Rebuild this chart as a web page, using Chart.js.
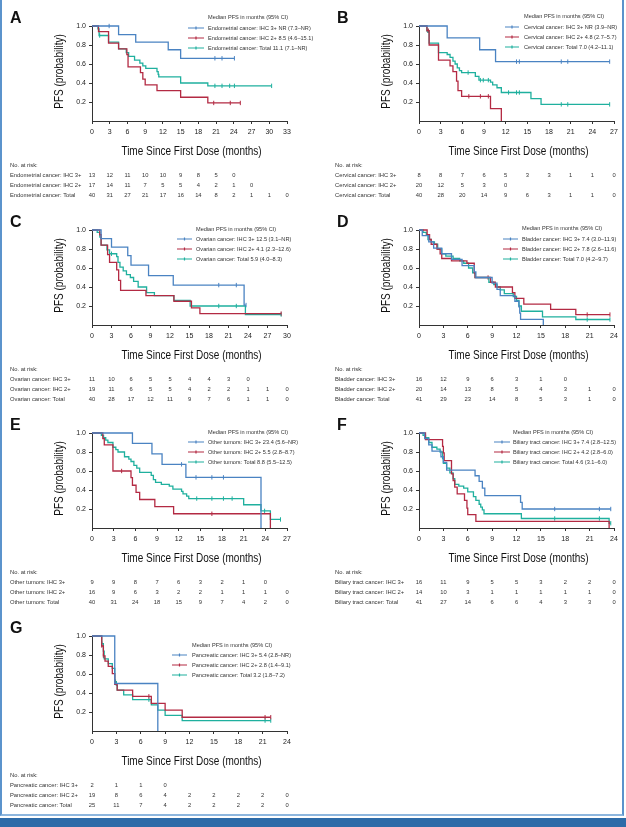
<!DOCTYPE html>
<html>
<head>
<meta charset="utf-8">
<script src="https://cdn.jsdelivr.net/npm/chart.js@4.4.1/dist/chart.umd.min.js"></script>
<style>
  html, body { margin: 0; padding: 0; background: #fff; overflow: hidden; }
  body { width: 626px; height: 827px; position: relative; }
  .frame { position: absolute; left: 0; top: 0; width: 620px; height: 814px;
           border-left: 2px solid #5b93cc; border-right: 2px solid #5b93cc; border-bottom: 2px solid #8db6de; }
  .bar { position: absolute; left: 0; top: 818px; width: 626px; height: 9px; background: #2d6ba8; }
  canvas { position: absolute; }
</style>
</head>
<body>
<div class="frame"></div>
<div class="bar"></div>
<canvas id="pA" width="326" height="204" style="left:0;top:0"></canvas>
<canvas id="pB" width="299" height="204" style="left:327px;top:0"></canvas>
<canvas id="pC" width="326" height="204" style="left:0;top:204px"></canvas>
<canvas id="pD" width="299" height="204" style="left:327px;top:204px"></canvas>
<canvas id="pE" width="326" height="204" style="left:0;top:407px"></canvas>
<canvas id="pF" width="299" height="204" style="left:327px;top:407px"></canvas>
<canvas id="pG" width="326" height="204" style="left:0;top:610px"></canvas>
<script>
// ---- A: endometrial ----
const endoMax = 33;
const endoIHC3 = [[0,1],[4.5,0.91],[7.4,0.83],[12.9,0.75],[15.0,0.66],[24.1,0.66]];
const endoIHC3Cens = [[2.9,1],[20.8,0.66],[22.0,0.66],[24.1,0.66]];
const endoIHC2 = [[0,1],[1.1,0.94],[2.8,0.82],[4.5,0.76],[5.9,0.70],[6.1,0.57],[8.2,0.51],[8.6,0.44],[9.0,0.38],[11.0,0.32],[15.0,0.25],[19.6,0.19],[25.1,0.19]];
const endoIHC2Cens = [[20.6,0.19],[23.4,0.19],[25.1,0.19]];
const endoTotal = [[0,1],[1.0,0.97],[1.2,0.90],[2.8,0.83],[4.5,0.76],[5.8,0.72],[6.2,0.68],[7.2,0.64],[8.1,0.61],[8.6,0.58],[9.1,0.555],[11.0,0.52],[11.2,0.49],[11.3,0.465],[15.0,0.40],[19.6,0.37],[30.4,0.37]];
const endoTotalCens = [[1.3,0.9],[20.8,0.37],[22.0,0.37],[23.3,0.37],[24.1,0.37],[30.4,0.37]];
const endoRisk3 = [13,12,11,10,10,9,8,5,0];
const endoRisk2 = [17,14,11,7,5,5,4,2,1,0];
const endoRiskT = [40,31,27,21,17,16,14,8,2,1,1,0];
const endoMedians = ['NR (7.3–NR)', '8.5 (4.6–15.1)', '11.1 (7.1–NR)'];

// ---- B: cervical ----
const cervMax = 27;
const cervIHC3 = [[0,1],[3.9,0.875],[8.4,0.75],[10.6,0.625],[26.4,0.625]];
const cervIHC3Cens = [[13.5,0.625],[13.9,0.625],[19.7,0.625],[20.6,0.625],[26.4,0.625]];
const cervIHC2 = [[0,1],[1.1,0.95],[1.4,0.80],[2.7,0.64],[4.3,0.58],[4.7,0.52],[5.2,0.42],[5.4,0.32],[5.9,0.26],[9.9,0.13],[11.4,0]];
const cervIHC2Cens = [[1.3,0.95],[6.9,0.26],[8.5,0.26],[9.6,0.26]];
const cervTotal = [[0,1],[1.1,0.95],[1.4,0.82],[2.7,0.72],[3.9,0.70],[4.3,0.67],[4.7,0.63],[5.0,0.60],[5.3,0.56],[5.6,0.53],[5.9,0.51],[7.8,0.47],[8.3,0.43],[9.9,0.41],[10.2,0.38],[10.8,0.35],[11.4,0.30],[15.5,0.235],[16.9,0.175],[26.4,0.175]];
const cervTotalCens = [[1.2,0.95],[6.8,0.51],[8.5,0.43],[8.9,0.43],[9.6,0.43],[12.4,0.30],[13.5,0.30],[13.9,0.30],[19.7,0.175],[20.6,0.175],[26.4,0.175]];
const cervRisk3 = [8,8,7,6,5,3,3,1,1,0];
const cervRisk2 = [20,12,5,3,0];
const cervRiskT = [40,28,20,14,9,6,3,1,1,0];
const cervMedians = ['NR (3.9–NR)', '4.8 (2.7–5.7)', '7.0 (4.2–11.1)'];

// ---- C: ovarian ----
const ovMax = 30;
const ovIHC3 = [[0,1],[1.4,0.91],[3.0,0.82],[5.5,0.73],[6.0,0.63],[8.7,0.52],[12.5,0.42],[23.4,0.21],[23.7,0.21]];
const ovIHC3Cens = [[19.5,0.42],[22.2,0.42],[23.7,0.21]];
const ovIHC2 = [[0,1],[1.2,0.95],[1.4,0.84],[2.4,0.74],[2.7,0.66],[3.8,0.58],[4.1,0.47],[4.4,0.365],[8.3,0.31],[12.6,0.25],[15.3,0.18],[16.6,0.12],[29.1,0.12]];
const ovIHC2Cens = [[29.1,0.12]];
const ovTotal = [[0,1],[0.8,0.975],[1.2,0.925],[1.4,0.84],[2.3,0.79],[2.7,0.75],[3.8,0.72],[4.0,0.66],[4.3,0.61],[4.8,0.57],[5.3,0.53],[5.9,0.50],[6.4,0.46],[7.1,0.40],[8.4,0.34],[9.6,0.31],[12.6,0.26],[15.1,0.20],[23.6,0.11],[29.1,0.11]];
const ovTotalCens = [[3.0,0.75],[19.5,0.20],[22.2,0.20],[29.1,0.11]];
const ovRisk3 = [11,10,6,5,5,4,4,3,0];
const ovRisk2 = [19,11,6,5,5,4,2,2,1,1,0];
const ovRiskT = [40,28,17,12,11,9,7,6,1,1,0];
const ovMedians = ['12.5 (3.1–NR)', '4.1 (2.3–12.6)', '5.9 (4.0–8.3)'];

// ---- D: bladder ----
const blaMax = 24;
const blaIHC3 = [[0,1],[0.4,0.94],[1.2,0.875],[1.8,0.81],[2.8,0.75],[4.0,0.69],[5.3,0.625],[6.8,0.56],[7.0,0.50],[9.0,0.44],[9.6,0.375],[10.0,0.31],[11.8,0.25],[12.3,0.19],[12.4,0.125],[12.5,0.06],[15.3,0]];
const blaIHC3Cens = [];
const blaIHC2 = [[0,1],[1.0,0.95],[1.3,0.90],[1.5,0.85],[2.2,0.80],[2.6,0.75],[2.8,0.70],[4.0,0.675],[5.9,0.65],[6.8,0.55],[6.9,0.50],[8.8,0.45],[9.4,0.40],[11.5,0.34],[11.8,0.28],[12.9,0.22],[16.2,0.165],[19.3,0.11],[23.5,0.11]];
const blaIHC2Cens = [[8.5,0.50],[20.7,0.11],[23.5,0.11]];
const blaTotal = [[0,1],[0.5,0.975],[0.9,0.95],[1.1,0.90],[1.5,0.875],[1.9,0.85],[2.3,0.80],[2.8,0.75],[3.3,0.725],[4.2,0.70],[5.0,0.675],[5.5,0.65],[6.1,0.60],[6.6,0.55],[6.9,0.50],[8.6,0.45],[9.2,0.425],[9.6,0.40],[10.0,0.37],[10.5,0.33],[11.6,0.30],[12.0,0.26],[12.3,0.20],[12.6,0.145],[15.2,0.085],[19.3,0.058],[23.5,0.058]];
const blaTotalCens = [[20.7,0.058],[23.5,0.058]];
const blaRisk3 = [16,12,9,6,3,1,0];
const blaRisk2 = [20,14,13,8,5,4,3,1,0];
const blaRiskT = [41,29,23,14,8,5,3,1,0];
const blaMedians = ['7.4 (3.0–11.9)', '7.8 (2.6–11.6)', '7.0 (4.2–9.7)'];

// ---- E: other tumors ----
const othMax = 27;
const othIHC3 = [[0,1],[5.6,0.89],[8.3,0.78],[9.7,0.67],[13.0,0.533],[23.4,0]];
const othIHC3Cens = [[12.4,0.67],[14.4,0.533],[16.6,0.533],[18.2,0.533]];
const othIHC2 = [[0,1],[1.5,0.94],[1.7,0.875],[2.9,0.60],[5.4,0.53],[5.6,0.45],[6.1,0.375],[6.6,0.30],[8.7,0.225],[11.3,0.15],[24.7,0]];
const othIHC2Cens = [[4.1,0.60],[16.6,0.15]];
const othTotal = [[0,1],[1.3,0.975],[1.6,0.95],[1.9,0.925],[2.2,0.90],[2.9,0.85],[3.3,0.825],[3.6,0.80],[4.5,0.75],[5.1,0.725],[5.4,0.70],[5.8,0.66],[6.2,0.63],[6.6,0.585],[8.2,0.555],[8.5,0.51],[8.8,0.48],[9.6,0.46],[10.7,0.44],[11.2,0.41],[12.4,0.385],[12.6,0.36],[13.1,0.335],[13.4,0.31],[21.0,0.245],[23.4,0.18],[24.7,0.09],[26.1,0.09]];
const othTotalCens = [[14.5,0.31],[16.6,0.31],[18.2,0.31],[19.4,0.31],[23.9,0.18],[26.1,0.09]];
const othRisk3 = [9,9,8,7,6,3,2,1,0];
const othRisk2 = [16,9,6,3,2,2,1,1,1,0];
const othRiskT = [40,31,24,18,15,9,7,4,2,0];
const othMedians = ['23.4 (5.6–NR)', '5.5 (2.8–8.7)', '8.8 (5.5–12.5)'];

// ---- F: biliary tract ----
const bilMax = 24;
const bilIHC3 = [[0,1],[0.7,0.94],[1.2,0.875],[1.6,0.81],[2.7,0.75],[3.0,0.69],[3.4,0.61],[6.9,0.55],[7.4,0.49],[7.8,0.42],[8.1,0.34],[12.5,0.27],[12.7,0.20],[23.6,0.20]];
const bilIHC3Cens = [[16.7,0.20],[22.2,0.20],[23.6,0.20]];
const bilIHC2 = [[0,1],[0.8,0.93],[2.9,0.86],[3.0,0.79],[3.1,0.71],[4.0,0.57],[4.2,0.50],[4.4,0.43],[4.7,0.36],[5.6,0.29],[5.9,0.21],[6.0,0.14],[7.0,0.07],[23.4,0]];
const bilIHC2Cens = [];
const bilTotal = [[0,1],[0.5,0.975],[0.8,0.95],[1.2,0.90],[1.6,0.85],[2.2,0.83],[2.6,0.80],[2.9,0.73],[3.0,0.68],[3.4,0.63],[3.8,0.58],[4.2,0.52],[4.4,0.46],[4.9,0.44],[5.5,0.42],[6.0,0.38],[6.7,0.33],[7.0,0.29],[7.4,0.25],[7.6,0.22],[7.8,0.19],[8.0,0.15],[12.6,0.10],[23.4,0.05],[23.6,0.05]];
const bilTotalCens = [[16.7,0.10],[22.2,0.10],[23.6,0.05]];
const bilRisk3 = [16,11,9,5,5,3,2,2,0];
const bilRisk2 = [14,10,3,1,1,1,1,1,0];
const bilRiskT = [41,27,14,6,6,4,3,3,0];
const bilMedians = ['7.4 (2.8–12.5)', '4.2 (2.8–6.0)', '4.6 (3.1–6.0)'];

// ---- G: pancreatic ----
const panMax = 24;
const panIHC3 = [[0,1],[2.8,0.5],[8.1,0]];
const panIHC3Cens = [];
const panIHC2 = [[0,1],[1.2,0.895],[1.4,0.79],[1.6,0.735],[2.0,0.68],[2.5,0.605],[2.8,0.49],[3.1,0.43],[5.0,0.365],[7.3,0.29],[9.0,0.22],[11.1,0.145],[22.0,0.145]];
const panIHC2Cens = [[1.2,0.9],[1.4,0.79],[7.0,0.365],[21.3,0.145],[22.0,0.145]];
const panTotal = [[0,1],[1.2,0.92],[1.4,0.84],[1.5,0.76],[2.0,0.71],[2.5,0.66],[2.8,0.52],[3.0,0.48],[3.1,0.43],[3.9,0.38],[5.0,0.33],[7.3,0.275],[8.1,0.22],[9.0,0.165],[11.1,0.11],[22.0,0.11]];
const panTotalCens = [[1.2,0.92],[2.9,0.52],[7.0,0.33],[21.3,0.11],[22.0,0.11]];
const panRisk3 = [2,1,1,0];
const panRisk2 = [19,8,6,4,2,2,2,2,0];
const panRiskT = [25,11,7,4,2,2,2,2,0];
const panMedians = ['5.4 (2.8–NR)', '2.8 (1.4–9.1)', '3.2 (1.8–7.2)'];

const BLUE = '#4a83c2', RED = '#b32a43', TEAL = '#1fb09e';
const FONT = '"Liberation Sans", Arial, sans-serif';

function toXY(pts) { return pts.map(p => ({ x: p[0], y: p[1] })); }

// stepped:true -> flat to the next event, then drop (Kaplan-Meier shape)
function curve(pts, color) {
  return { data: toXY(pts), borderColor: color, borderWidth: 1.3, stepped: true,
           pointRadius: 0, fill: false, clip: false };
}
function cens(pts, color) {
  return { data: toXY(pts), showLine: false, pointStyle: 'line', pointRotation: 90,
           pointRadius: 2.2, pointBorderColor: color, pointBorderWidth: 1, borderColor: color, clip: false };
}

// condensed text: the figure uses a narrow face, so squeeze a regular one
function narrowText(ctx, text, x, y, rot) {
  ctx.save();
  ctx.translate(x, y);
  if (rot) ctx.rotate(rot);
  ctx.scale(0.8, 1);
  ctx.fillText(text, 0, 0);
  ctx.restore();
}

// letter, axis titles, legend and risk table
const kmExtras = {
  id: 'kmExtras',
  afterDraw(chart, args, o) {
    const ctx = chart.ctx;
    const xs = chart.scales.x, ys = chart.scales.y;
    const colors = [BLUE, RED, TEAL];
    const groups = ['IHC 3+', 'IHC 2+', 'Total'];
    ctx.save();
    ctx.fillStyle = '#111';
    ctx.font = 'bold 16px ' + FONT;
    ctx.textAlign = 'left';
    ctx.textBaseline = 'alphabetic';
    ctx.fillText(o.letter, 10, 23);

    ctx.font = '12.5px ' + FONT;
    ctx.textAlign = 'center';
    ctx.textBaseline = 'middle';
    narrowText(ctx, 'Time Since First Dose (months)', (xs.left + xs.right) / 2 + 2, 152);
    narrowText(ctx, 'PFS (probability)', 60, (ys.top + ys.bottom) / 2 - 2, -Math.PI / 2);

    ctx.textAlign = 'left';
    ctx.font = '5.6px ' + FONT;
    ctx.fillStyle = '#333';
    ctx.fillText('Median PFS in months (95% CI)', o.leg[2], o.legTitleY);
    o.legY.forEach((y, i) => {
      ctx.strokeStyle = colors[i];
      ctx.lineWidth = 1.2;
      ctx.beginPath();
      ctx.moveTo(o.leg[0], y); ctx.lineTo(o.leg[1], y);
      const mid = (o.leg[0] + o.leg[1]) / 2;
      ctx.moveTo(mid, y - 1.5); ctx.lineTo(mid, y + 1.5);
      ctx.stroke();
      ctx.fillStyle = '#333';
      ctx.fillText(o.name + ': ' + groups[i] + ' ' + o.medians[i], o.leg[2], y);
    });

    ctx.font = '5.8px ' + FONT;
    ctx.fillText('No. at risk:', o.riskX, 165.5);
    o.risks.forEach((row, r) => {
      const y = 175 + r * 10;
      ctx.textAlign = 'left';
      ctx.fillText(o.name + ': ' + groups[r], o.riskX, y);
      ctx.textAlign = 'center';
      row.forEach((v, i) => ctx.fillText(String(v), xs.getPixelForValue(i * 3), y));
    });
    ctx.restore();
  }
};

function makePanel(id, p) {
  new Chart(document.getElementById(id), {
    type: 'line',
    data: {
      datasets: [
        curve(p.curves[0], BLUE), curve(p.curves[1], RED), curve(p.curves[2], TEAL),
        cens(p.cens[0], BLUE), cens(p.cens[1], RED), cens(p.cens[2], TEAL)
      ]
    },
    options: {
      responsive: false,
      animation: false,
      devicePixelRatio: 1,
      layout: { padding: { top: 26, right: p.padRight, left: 0, bottom: 0 } },
      plugins: {
        legend: { display: false },
        tooltip: { enabled: false },
        kmExtras: p.extras
      },
      scales: {
        x: {
          type: 'linear', min: 0, max: p.xMax,
          ticks: { stepSize: 3, autoSkip: false, maxRotation: 0, padding: 4,
                   font: { family: FONT, size: 7 }, color: '#222' },
          grid: { drawOnChartArea: false, drawTicks: true, tickLength: 3, color: '#333' },
          border: { color: '#333', width: 1 },
          afterFit(s) { s.height = 83; }
        },
        y: {
          min: 0, max: 1,
          ticks: { stepSize: 0.2, padding: 3, font: { family: FONT, size: 7 }, color: '#222',
                   callback: v => v.toFixed(1) },
          afterBuildTicks(s) { s.ticks = s.ticks.filter(t => t.value > 0.05); },
          grid: { drawOnChartArea: false, drawTicks: true, tickLength: 3, color: '#333' },
          border: { color: '#333', width: 1 },
          afterFit(s) { s.width = 92; }
        }
      }
    },
    plugins: [kmExtras]
  });
}

makePanel('pA', { xMax: endoMax, padRight: 39,
  curves: [endoIHC3, endoIHC2, endoTotal], cens: [endoIHC3Cens, endoIHC2Cens, endoTotalCens],
  extras: { letter: 'A', name: 'Endometrial cancer', medians: endoMedians, riskX: 10,
            leg: [188, 204, 208], legTitleY: 17, legY: [28, 38, 48],
            risks: [endoRisk3, endoRisk2, endoRiskT] } });

makePanel('pB', { xMax: cervMax, padRight: 12,
  curves: [cervIHC3, cervIHC2, cervTotal], cens: [cervIHC3Cens, cervIHC2Cens, cervTotalCens],
  extras: { letter: 'B', name: 'Cervical cancer', medians: cervMedians, riskX: 8,
            leg: [178, 192, 197], legTitleY: 16.5, legY: [27, 37, 47],
            risks: [cervRisk3, cervRisk2, cervRiskT] } });

makePanel('pC', { xMax: ovMax, padRight: 39,
  curves: [ovIHC3, ovIHC2, ovTotal], cens: [ovIHC3Cens, ovIHC2Cens, ovTotalCens],
  extras: { letter: 'C', name: 'Ovarian cancer', medians: ovMedians, riskX: 10,
            leg: [177, 192, 196], legTitleY: 25, legY: [35, 45, 55],
            risks: [ovRisk3, ovRisk2, ovRiskT] } });

makePanel('pD', { xMax: blaMax, padRight: 12,
  curves: [blaIHC3, blaIHC2, blaTotal], cens: [blaIHC3Cens, blaIHC2Cens, blaTotalCens],
  extras: { letter: 'D', name: 'Bladder cancer', medians: blaMedians, riskX: 8,
            leg: [176, 191, 195], legTitleY: 24.5, legY: [35, 45, 55],
            risks: [blaRisk3, blaRisk2, blaRiskT] } });

makePanel('pE', { xMax: othMax, padRight: 39,
  curves: [othIHC3, othIHC2, othTotal], cens: [othIHC3Cens, othIHC2Cens, othTotalCens],
  extras: { letter: 'E', name: 'Other tumors', medians: othMedians, riskX: 10,
            leg: [188, 204, 208], legTitleY: 25, legY: [35, 45, 55],
            risks: [othRisk3, othRisk2, othRiskT] } });

makePanel('pF', { xMax: bilMax, padRight: 12,
  curves: [bilIHC3, bilIHC2, bilTotal], cens: [bilIHC3Cens, bilIHC2Cens, bilTotalCens],
  extras: { letter: 'F', name: 'Biliary tract cancer', medians: bilMedians, riskX: 8,
            leg: [167, 183, 186], legTitleY: 25, legY: [35, 45, 55],
            risks: [bilRisk3, bilRisk2, bilRiskT] } });

makePanel('pG', { xMax: panMax, padRight: 39,
  curves: [panIHC3, panIHC2, panTotal], cens: [panIHC3Cens, panIHC2Cens, panTotalCens],
  extras: { letter: 'G', name: 'Pancreatic cancer', medians: panMedians, riskX: 10,
            leg: [172, 187, 192], legTitleY: 35, legY: [45, 55, 65],
            risks: [panRisk3, panRisk2, panRiskT] } });
</script>
</body>
</html>
